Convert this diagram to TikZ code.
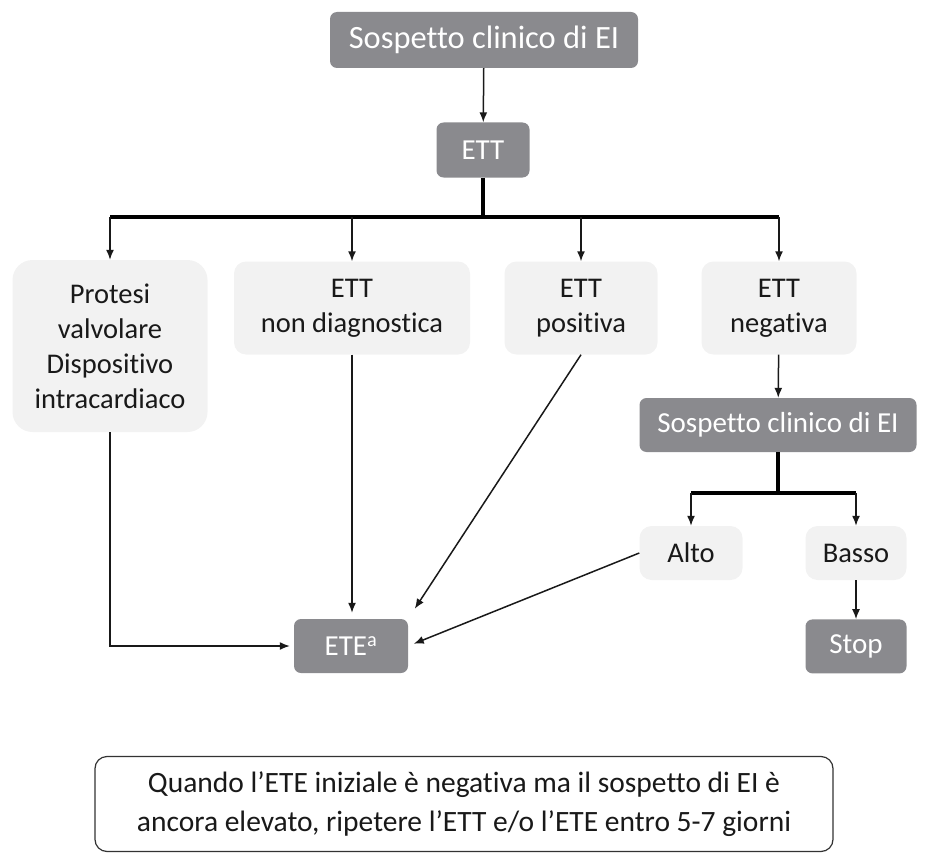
\documentclass[tikz,border=0pt]{standalone}
\usepackage{fontspec}
\setmainfont{Carlito}[Ligatures={NoCommon,NoContextual}, Contextuals=NoAlternate]
\usepackage{tikz}
\usetikzlibrary{arrows.meta,positioning,calc}
\usepackage{xcolor}
\definecolor{boxgray}{RGB}{138,138,142}
\definecolor{boxlight}{RGB}{242,242,242}
\definecolor{txtdark}{RGB}{25,25,25}

\begin{document}
\begin{tikzpicture}[x=1pt, y=-1pt]
    \tikzset{darkbox/.style={rectangle, fill=boxgray, text=white, minimum height=54pt, align=center, rounded corners=7pt, font=\fontsize{29}{35}\selectfont}}
    \tikzset{lightbox/.style={rectangle, fill=boxlight, text=txtdark, minimum height=54pt, align=center, rounded corners=12pt, font=\fontsize{28.5}{35}\selectfont}}
    \tikzset{arrow/.style={-{Latex[length=10pt, width=8pt]}, line width=1.5pt, draw=black!90}}
    \tikzset{bar/.style={line width=3.5pt, draw=black}}

    \useasboundingbox (0,0) rectangle (934,856);

    % Top of the chart
    \node[darkbox, minimum width=308pt, minimum height=56pt, font=\fontsize{32.5}{38}\selectfont] (sosp) at (484,40) {Sospetto clinico di EI};
    \node[darkbox, minimum width=93pt, minimum height=55pt] (ett) at (483,150) {ETT};

    % First row
    \node[lightbox, minimum width=195pt, minimum height=172pt, rounded corners=20pt] (protesi) at (110,346) {Protesi\\valvolare\\Dispositivo\\intracardiaco};
    \node[lightbox, minimum width=236pt, minimum height=93pt] (nondiag) at (352,308) {ETT\\non diagnostica};
    \node[lightbox, minimum width=153pt, minimum height=93pt] (positiva) at (581,308) {ETT\\positiva};
    \node[lightbox, minimum width=155pt, minimum height=93pt] (negativa) at (779,308) {ETT\\negativa};

    % Right branch
    \node[darkbox, minimum width=277pt] (sosp2) at (778,425) {Sospetto clinico di EI};
    \node[lightbox, minimum width=103pt] (alto) at (691,553) {Alto};
    \node[lightbox, minimum width=101pt] (basso) at (856,553) {Basso};
    \node[darkbox, minimum width=101pt, below=39pt of basso] (stop) {Stop};

    % ETE
    \node[darkbox, minimum width=114pt] (ete) at (351,646) {ETE\textsuperscript{a}};

    % Note
    \node[rectangle, draw=black!80, line width=1.2pt, fill=white, rounded corners=12pt, minimum width=738pt, minimum height=95pt, align=center, text=txtdark, font=\fontsize{29.5}{39}\selectfont] (note) at (464,804) {Quando l’ETE iniziale è negativa ma il sospetto di EI è\\ancora elevato, ripetere l’ETT e/o l’ETE entro 5-7 giorni};

    % Bars
    \coordinate (bartop) at (0,217);
    \coordinate (barlow) at (0,493);
    \draw[bar] (ett.south) -- (ett.south |- bartop);
    \draw[bar] (protesi.north |- bartop) -- (negativa.north |- bartop);
    \draw[bar] (sosp2.south) -- (sosp2.south |- barlow);
    \draw[bar] (alto.north |- barlow) -- (basso.north |- barlow);

    % Arrows
    \draw[arrow] (sosp) -- (ett);
    \draw[arrow] (protesi.north |- bartop) -- (protesi.north);
    \draw[arrow] (nondiag.north |- bartop) -- (nondiag.north);
    \draw[arrow] (positiva.north |- bartop) -- (positiva.north);
    \draw[arrow] (negativa.north |- bartop) -- (negativa.north);
    \draw[arrow] (negativa) -- (sosp2);
    \draw[arrow] (alto.north |- barlow) -- (alto.north);
    \draw[arrow] (basso.north |- barlow) -- (basso.north);
    \draw[arrow] (basso) -- (stop);
    \draw[arrow, shorten >=4pt] (protesi.south) |- (ete.west);
    \draw[arrow, shorten >=6pt] (nondiag.south) -- (nondiag.south |- ete.north);
    \draw[arrow, shorten >=12pt] (positiva.south) -- (ete.north east);
    \draw[arrow, shorten >=6pt] (alto.west) -- (ete.east);
\end{tikzpicture}
\end{document}
